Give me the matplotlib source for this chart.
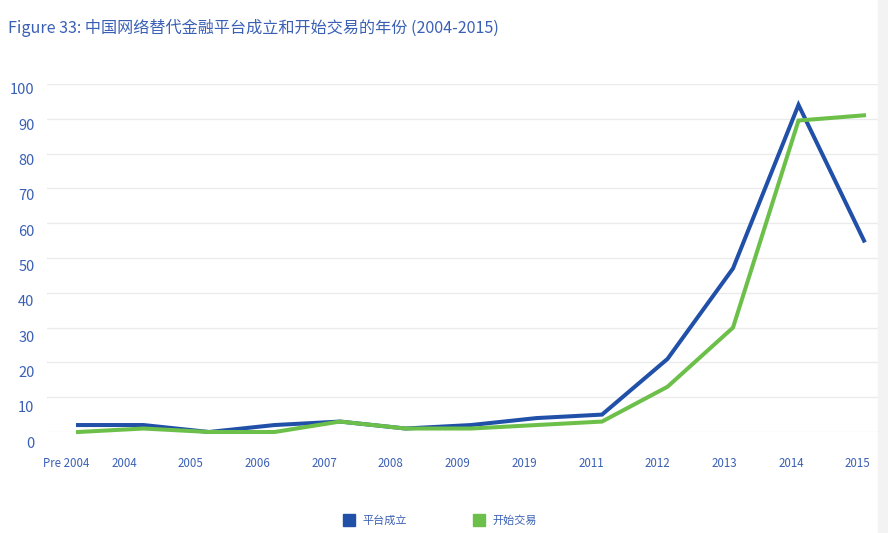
import matplotlib
matplotlib.use("Agg")
import matplotlib.pyplot as plt
import matplotlib.transforms as mtransforms
from matplotlib.lines import Line2D
from matplotlib.patches import Rectangle
import numpy as np

plt.rcParams['font.family'] = ['Noto Sans CJK SC', 'DejaVu Sans']

title = "Figure 33: 中国网络替代金融平台成立和开始交易的年份 (2004-2015)"
years = ["Pre 2004", "2004", "2005", "2006", "2007", "2008", "2009",
         "2019", "2011", "2012", "2013", "2014", "2015"]
founded = [2, 2, 0, 2, 3, 1, 2, 4, 5, 21, 47, 94, 55]       # 平台成立
trading = [0, 1, 0, 0, 3, 1, 1, 2, 3, 13, 30, 89.5, 91]    # 开始交易
y_ticks = [0, 10, 20, 30, 40, 50, 60, 70, 80, 90, 100]

color_blue, color_green = "#2150a8", "#6cc04a"
color_text = "#3a60b5"

fig = plt.figure(figsize=(8.88, 5.33), dpi=100)
ax = fig.add_axes([47 / 888, 1 - 432 / 533, (878 - 47) / 888, (432 - 84) / 533])

x = np.arange(len(years))
ax.plot(x, founded, c=color_blue, lw=2.9, solid_joinstyle="miter", clip_on=False)
ax.plot(x, trading, c=color_green, lw=2.9, solid_joinstyle="miter", clip_on=False)

ax.set_yticks(y_ticks)
ax.set_yticklabels([str(v) for v in y_ticks])
ax.grid(axis="y", color="#ebebeb", lw=1)
ax.tick_params(axis="y", length=0, pad=9, labelsize=10.5, labelcolor=color_text)

# x labels drift slightly against the data points
xpos = [-0.18] + list(0.702 + 1.0183 * np.arange(len(years) - 1))
ax.set_xticks(xpos)
ax.set_xticklabels(years)
ax.tick_params(axis="x", length=0, pad=18, labelsize=8.3, labelcolor=color_text)

ax.set_xlim((47 - 78) / 65.5, (878 - 78) / 65.5)
ax.set_ylim(0, 100)

# y labels sit below their gridlines, a bit more so near the bottom
for tick, v in zip(ax.yaxis.get_major_ticks(), y_ticks):
    shift = (10 - 0.05 * v) / 100
    tick.label1.set_transform(tick.label1.get_transform()
                              + mtransforms.ScaledTranslation(0, -shift, fig.dpi_scale_trans))

for s in ax.spines.values():
    s.set_visible(False)

fig.text(8 / 888, 1 - 28 / 533, title, color=color_text, fontsize=11.6,
         va="center", ha="left")

handles = [Line2D([], [], ls="none", marker="s", ms=8, color=color_blue),
           Line2D([], [], ls="none", marker="s", ms=8, color=color_green)]
fig.legend(handles, ["平台成立", "开始交易"], loc="center",
           bbox_to_anchor=(440 / 888, 1 - 521 / 533), ncol=2, frameon=False,
           fontsize=8, handlelength=1, handletextpad=0.7, columnspacing=6,
           labelcolor=color_text)

fig.patches.append(Rectangle((878 / 888, 0), 10 / 888, 1, transform=fig.transFigure,
                             color="#f3f3f3", zorder=0))

fig.savefig("out.png", dpi=100)
